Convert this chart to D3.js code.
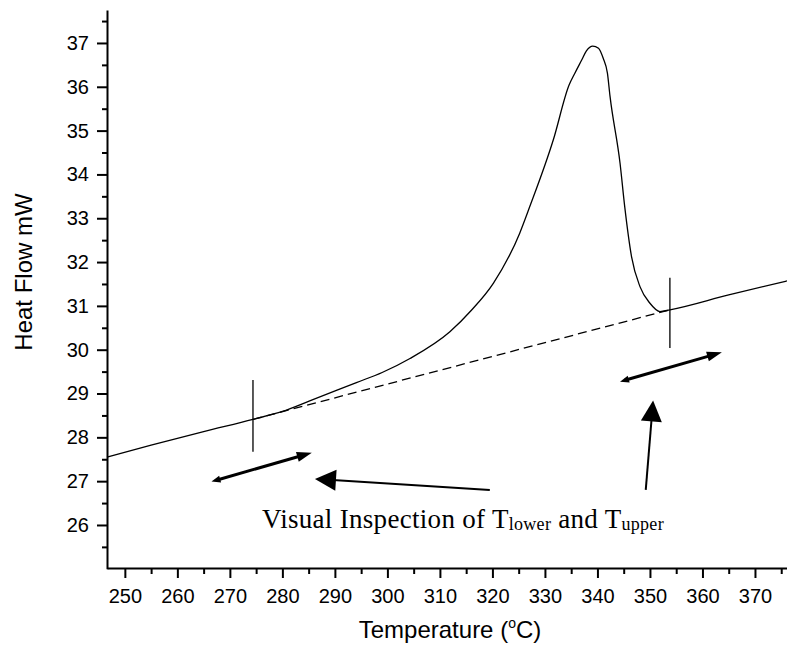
<!DOCTYPE html>
<html lang="en">
<head>
<meta charset="UTF-8">
<title>Heat Flow</title>
<script src="https://d3js.org/d3.v7.min.js"></script>
<style>
  body { margin: 0; background: #fff; }
  svg { display: block; }
  .axis text { font-family: Arial, "Liberation Sans", sans-serif; font-size: 20px; fill: #000; }
  .axis path, .axis line { stroke: #000; stroke-width: 2; }
</style>
</head>
<body>
<div id="chart"></div>
<script>
// DSC trace: temperature (°C) and heat flow (mW)
const temperature = [246.6, 255, 265, 274.4, 280, 285.2, 294.1, 299, 304.3, 311.9, 316, 320.2, 325.2, 327.1, 331.6, 334.6, 335.7, 337.0, 337.9, 339.1, 340.2, 341.1, 341.9, 342.4, 344.3, 345.2, 346.5, 348.1, 350.0, 351.9, 353.8, 365, 376.1];
const heatFlow    = [27.55, 27.82, 28.13, 28.41, 28.59, 28.83, 29.25, 29.48, 29.8, 30.41, 30.9, 31.52, 32.66, 33.26, 34.79, 36.04, 36.31, 36.61, 36.82, 36.93, 36.88, 36.65, 36.31, 35.78, 34.26, 33.26, 32.12, 31.44, 31.06, 30.87, 30.91, 31.25, 31.57];

// dashed baseline between Tlower and Tupper
const baseTemp = [274.4, 353.8];
const baseFlow = [28.41, 30.91];

// vertical markers at Tlower / Tupper
const markTemp = [274.4, 353.8];
const markLow  = [27.67, 30.04];
const markHigh = [29.31, 31.64];

// double arrows (start temp, start flow, end temp, end flow)
const dblFrom = [[266.5, 26.99], [344.3, 29.27]];
const dblTo   = [[285.6, 27.65], [363.7, 29.94]];

// pointer arrows from the caption
const ptrTail = [[319.5, 26.8], [349.2, 26.8]];
const ptrTip  = [[286.2, 27.05], [350.6, 28.84]];

const xMajor = d3.range(250, 371, 10);
const xMinor = d3.range(255, 376, 10);
const yMajor = d3.range(26, 38, 1);
const yMinor = d3.range(25.5, 38, 1);

const W = 787, H = 660;
const svg = d3.select("#chart").append("svg")
  .attr("width", W).attr("height", H);

const x = d3.scaleLinear().domain([246.6, 376.1]).range([107, 787]);
const y = d3.scaleLinear().domain([25, 37.75]).range([568.8, 10.1]);

// axes
svg.append("g").attr("class", "axis")
  .attr("transform", "translate(0,568)")
  .call(d3.axisBottom(x).tickValues(xMajor).tickSize(10).tickSizeOuter(0).tickPadding(11));
svg.append("g").attr("class", "axis minor")
  .attr("transform", "translate(0,568)")
  .call(d3.axisBottom(x).tickValues(xMinor).tickSize(6).tickFormat(""))
  .select(".domain").remove();

svg.append("g").attr("class", "axis")
  .attr("transform", "translate(107,0)")
  .call(d3.axisLeft(y).tickValues(yMajor).tickSize(10).tickSizeOuter(0).tickPadding(8));
svg.append("g").attr("class", "axis minor")
  .attr("transform", "translate(107,0)")
  .call(d3.axisLeft(y).tickValues(yMinor).tickSize(5).tickFormat(""))
  .select(".domain").remove();

// axis titles
const xt = svg.append("text")
  .attr("x", 450).attr("y", 638)
  .attr("text-anchor", "middle")
  .style("font-family", "Arial, 'Liberation Sans', sans-serif")
  .style("font-size", "24px");
xt.append("tspan").text("Temperature (");
xt.append("tspan").attr("dy", -10).style("font-size", "14px").text("o");
xt.append("tspan").attr("dy", 10).text("C)");

svg.append("text")
  .attr("transform", "translate(32,272) rotate(-90)")
  .attr("text-anchor", "middle")
  .style("font-family", "Arial, 'Liberation Sans', sans-serif")
  .style("font-size", "24px")
  .text("Heat Flow mW");

// curve
const pts = temperature.map((t, i) => [t, heatFlow[i]]);
const line = d3.line().x(d => x(d[0])).y(d => y(d[1])).curve(d3.curveMonotoneX);

svg.append("path")
  .datum(pts)
  .attr("d", line)
  .attr("fill", "none")
  .attr("stroke", "#000")
  .attr("stroke-width", 1.3);

svg.append("path")
  .datum(baseTemp.map((t, i) => [t, baseFlow[i]]))
  .attr("d", d3.line().x(d => x(d[0])).y(d => y(d[1])))
  .attr("fill", "none")
  .attr("stroke", "#000")
  .attr("stroke-width", 1.3)
  .attr("stroke-dasharray", "9,5");

svg.selectAll(".marker")
  .data(markTemp)
  .enter().append("line")
  .attr("class", "marker")
  .attr("x1", d => x(d)).attr("x2", d => x(d))
  .attr("y1", (d, i) => y(markLow[i])).attr("y2", (d, i) => y(markHigh[i]))
  .attr("stroke", "#000").attr("stroke-width", 1.3);

// arrow heads
function head(from, to, len, half) {
  const dx = to[0] - from[0], dy = to[1] - from[1];
  const n = Math.hypot(dx, dy), ux = dx / n, uy = dy / n;
  const bx = to[0] - ux * len, by = to[1] - uy * len;
  return [to, [bx - uy * half, by + ux * half], [bx + uy * half, by - ux * half]];
}
const px = p => [x(p[0]), y(p[1])];

dblFrom.forEach((f, i) => {
  const a = px(f), b = px(dblTo[i]);
  const n = Math.hypot(b[0] - a[0], b[1] - a[1]);
  const ux = (b[0] - a[0]) / n, uy = (b[1] - a[1]) / n;
  svg.append("line")
    .attr("x1", a[0] + ux * 5).attr("y1", a[1] + uy * 5)
    .attr("x2", b[0] - ux * 10).attr("y2", b[1] - uy * 10)
    .attr("stroke", "#000").attr("stroke-width", 3);
  svg.append("polygon").attr("points", head(b, a, 9, 3.5).join(" ")).attr("fill", "#000");
  svg.append("polygon").attr("points", head(a, b, 15, 5).join(" ")).attr("fill", "#000");
});

ptrTail.forEach((f, i) => {
  const a = px(f), b = px(ptrTip[i]);
  const n = Math.hypot(b[0] - a[0], b[1] - a[1]);
  const ux = (b[0] - a[0]) / n, uy = (b[1] - a[1]) / n;
  svg.append("line")
    .attr("x1", a[0]).attr("y1", a[1])
    .attr("x2", b[0] - ux * 18).attr("y2", b[1] - uy * 18)
    .attr("stroke", "#000").attr("stroke-width", 2);
  svg.append("polygon").attr("points", head(a, b, 21, 10.5).join(" ")).attr("fill", "#000");
});

// caption
const cap = svg.append("text")
  .attr("x", 262).attr("y", 528)
  .style("font-family", "'Liberation Serif', 'DejaVu Serif', serif")
  .style("font-size", "27px")
  .style("letter-spacing", "0.3px");
cap.append("tspan").text("Visual Inspection of T");
cap.append("tspan").attr("dy", 2).style("font-size", "18px").text("lower");
cap.append("tspan").attr("dy", -2).text(" and T");
cap.append("tspan").attr("dy", 2).style("font-size", "18px").text("upper");
</script>
</body>
</html>
